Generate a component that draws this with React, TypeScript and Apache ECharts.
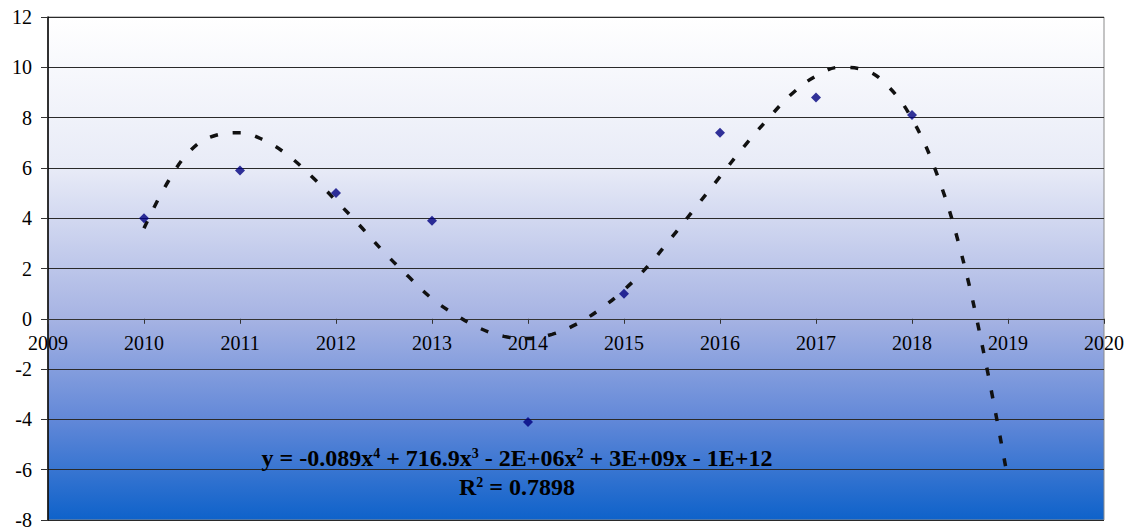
import React, { useEffect, useRef } from "react";
import * as echarts from "echarts";

// Observed values per year
const years = [2010, 2011, 2012, 2013, 2014, 2015, 2016, 2017, 2018];
const values = [4.0, 5.9, 5.0, 3.9, -4.1, 1.0, 7.4, 8.8, 8.1];

// Polynomial (order 4) trend line, sampled every quarter year
const trendX = [
  2010.0, 2010.25, 2010.5, 2010.75, 2011.0, 2011.25, 2011.5, 2011.75,
  2012.0, 2012.25, 2012.5, 2012.75, 2013.0, 2013.25, 2013.5, 2013.75,
  2014.0, 2014.25, 2014.5, 2014.75, 2015.0, 2015.25, 2015.5, 2015.75,
  2016.0, 2016.25, 2016.5, 2016.75, 2017.0, 2017.25, 2017.5, 2017.75,
  2018.0, 2018.25, 2018.5, 2018.75, 2019.0,
];
const trendY = [
  3.6, 5.45, 6.75, 7.3, 7.4, 7.1, 6.5, 5.65,
  4.7, 3.7, 2.65, 1.7, 0.8, 0.15, -0.38, -0.7,
  -0.78, -0.62, -0.22, 0.38, 1.15, 2.1, 3.25, 4.45,
  5.65, 6.85, 7.95, 8.95, 9.65, 10.0, 9.9, 9.25,
  7.95, 5.85, 2.8, -1.4, -6.4,
];

const equationText = "y = -0.089x{s|4} + 716.9x{s|3} - 2E+06x{s|2} + 3E+09x - 1E+12";
const rSquaredText = "R{s|2} = 0.7898";

const Y_MIN = -8;
const Y_MAX = 12;

const FONT = "'Liberation Serif', 'Times New Roman', serif";

const WIDTH = 1133;
const HEIGHT = 527;
const GRID = { left: 48, right: 29, top: 17, bottom: 7 };

export default function App() {
  const ref = useRef<HTMLDivElement>(null);

  useEffect(() => {
    if (!ref.current) return;
    const chart = echarts.init(ref.current, undefined, { renderer: "svg" });

    // Lift the category axis from the grid's bottom edge up to the y = 0 line
    const plotHeight = HEIGHT - GRID.top - GRID.bottom;
    const zeroOffset = -plotHeight * ((0 - Y_MIN) / (Y_MAX - Y_MIN));

    const richSup = {
      s: { fontSize: 14, fontWeight: "bold", fontFamily: FONT, color: "#000", verticalAlign: "top", lineHeight: 15 },
    };

    chart.setOption({
      animation: false,
      grid: {
        ...GRID,
        outerBoundsMode: "none",
        containLabel: false,
        show: true,
        borderColor: "#8a8a8a",
        borderWidth: 1,
        backgroundColor: new echarts.graphic.LinearGradient(0, 0, 0, 1, [
          { offset: 0, color: "#ffffff" },
          { offset: 0.3, color: "#e8ebf7" },
          { offset: 0.6, color: "#a6b3e3" },
          { offset: 0.8, color: "#6288d8" },
          { offset: 1, color: "#0e62ca" },
        ]),
      },
      xAxis: {
        type: "value",
        min: 2009,
        max: 2020,
        interval: 1,
        position: "bottom",
        offset: zeroOffset,
        axisLine: { onZero: false, lineStyle: { color: "#333", width: 1 } },
        axisTick: { show: true, length: 5, lineStyle: { color: "#333" } },
        axisLabel: {
          color: "#000",
          fontFamily: FONT,
          fontSize: 20,
          margin: 14,
          formatter: (v: number) => String(v),
        },
        splitLine: { show: false },
      },
      yAxis: {
        type: "value",
        min: Y_MIN,
        max: Y_MAX,
        interval: 2,
        axisLine: { show: true, onZero: false, lineStyle: { color: "#000", width: 1.5 } },
        axisTick: { show: true, length: 7, lineStyle: { color: "#333" } },
        axisLabel: { color: "#000", fontFamily: FONT, fontSize: 20, margin: 16 },
        splitLine: { show: true, lineStyle: { color: "#2a2a2a", width: 1 } },
      },
      series: [
        {
          type: "line",
          data: trendX.map((x, i) => [x, trendY[i]]),
          smooth: 0.4,
          showSymbol: false,
          symbol: "none",
          lineStyle: { color: "#111", width: 3.5, type: [8, 15], cap: "butt" },
          z: 2,
        },
        {
          type: "scatter",
          data: years.map((y, i) => [y, values[i]]),
          symbol: "diamond",
          symbolSize: 10,
          itemStyle: { color: "#000080" },
          z: 3,
        },
      ],
      graphic: [
        {
          type: "text",
          x: 517,
          y: 458,
          style: {
            text: equationText,
            fontFamily: FONT,
            fontWeight: "bold",
            fontSize: 24,
            fill: "#000",
            align: "center",
            verticalAlign: "middle",
            rich: { ...richSup },
          },
          z: 10,
        },
        {
          type: "text",
          x: 517,
          y: 487,
          style: {
            text: rSquaredText,
            fontFamily: FONT,
            fontWeight: "bold",
            fontSize: 24,
            fill: "#000",
            align: "center",
            verticalAlign: "middle",
            rich: { ...richSup },
          },
          z: 10,
        },
      ],
    });

    return () => chart.dispose();
  }, []);

  return <div ref={ref} style={{ position: "absolute", left: 0, top: 0, width: WIDTH, height: HEIGHT }} />;
}
